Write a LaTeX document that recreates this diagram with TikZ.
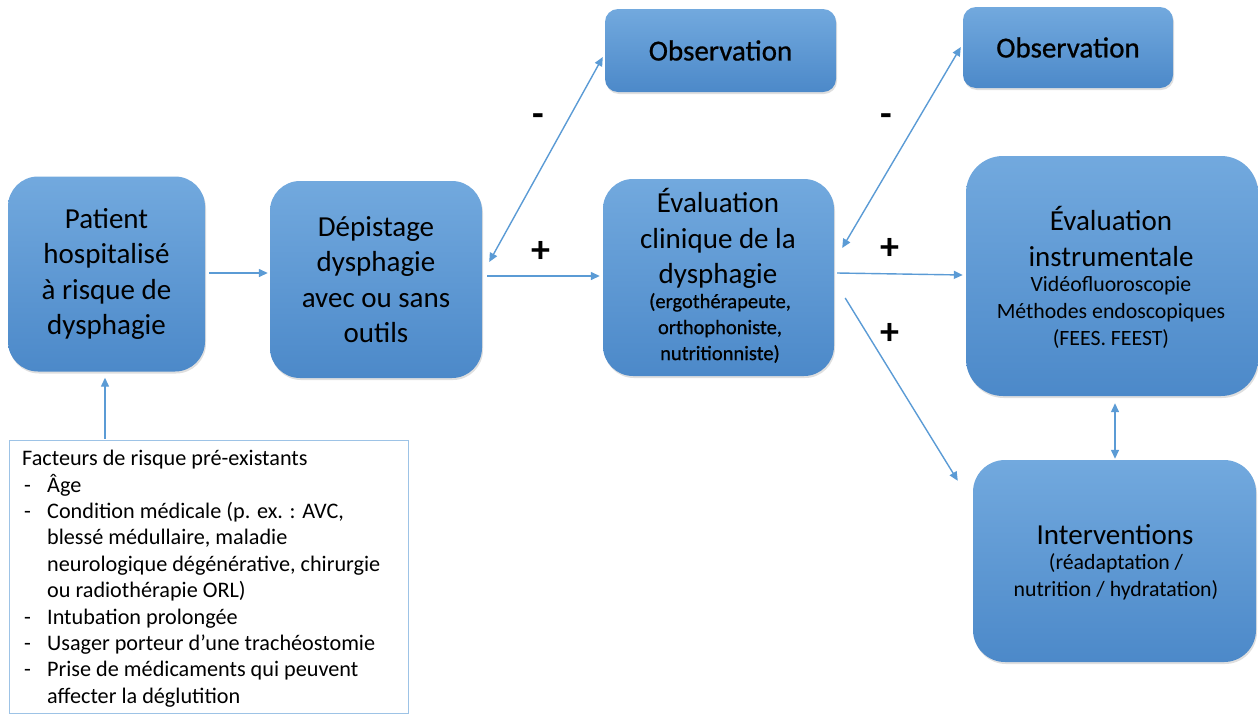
\documentclass[tikz,border=0pt]{standalone}
\usepackage{fontspec}
\setmainfont{Carlito}
\newfontfamily\medfont{Carlito}[FakeBold=0.7]
\usetikzlibrary{arrows.meta,shadows,calc}
\definecolor{boxtop}{HTML}{72A9DE}
\definecolor{boxbot}{HTML}{4C89C9}
\definecolor{arrc}{HTML}{5B9BD5}
\definecolor{facb}{HTML}{9DC3E6}
\begin{document}
\begin{tikzpicture}[x=1pt,y=-1pt,
  box/.style={rectangle, inner sep=0pt, top color=boxtop, bottom color=boxbot, draw=none,
    drop shadow={opacity=0.25, shadow xshift=1pt, shadow yshift=-2pt}, align=center, text=black},
  big/.style={font=\fontsize{29}{35.5}\selectfont, align=center, text=black},
  obst/.style={font=\medfont\fontsize{29}{34}\selectfont, text=black},
  smallb/.style={font=\medfont\fontsize{20.5}{26}\selectfont, align=center, text=black},
  small/.style={font=\fontsize{21.8}{27}\selectfont, align=center, text=black},
  arr/.style={draw=arrc, line width=1.4pt, -{Triangle[width=8pt,length=9pt]}},
  dbl/.style={draw=arrc, line width=1.4pt, {Triangle[width=8pt,length=9pt]}-{Triangle[width=8pt,length=9pt]}},
  sign/.style={font=\fontsize{38}{38}\selectfont\bfseries, text=black}
]
\useasboundingbox (0,0) rectangle (1258,713);

% boxes
\node[box, big, rounded corners=30pt, minimum width=197pt, minimum height=195pt] (pat) at (106.5,274)
  {Patient\\hospitalisé\\à risque de\\dysphagie};
\node[box, big, rounded corners=30pt, minimum width=212pt, minimum height=197pt] (dep) at (376,279.5)
  {Dépistage\\dysphagie\\avec ou sans\\outils};
\node[box, obst, rounded corners=13pt, minimum width=231pt, minimum height=83pt] (obs1) at (720.5,50.5)
  {Observation};
\node[box, rounded corners=30pt, minimum width=231pt, minimum height=197pt] (eval) at (718.5,277.5) {};
\node[big] (evalt) at (718,238.5) {Évaluation\\clinique de la\\dysphagie};
\node[smallb] (evals) at (720,328) {(ergothérapeute,\\orthophoniste,\\nutritionniste)};
\node[box, obst, rounded corners=13pt, minimum width=210pt, minimum height=81pt] (obs2) at (1068,47.5)
  {Observation};
\node[box, rounded corners=37pt, minimum width=292pt, minimum height=240pt] (instr) at (1112,276) {};
\node[big] (instrt) at (1111,236.5) {Évaluation\\instrumentale};
\node[small] (instrs) at (1111,312) {Vidéofluoroscopie\\Méthodes endoscopiques\\(FEES. FEEST)};
\node[box, rounded corners=32pt, minimum width=283pt, minimum height=202pt] (interv) at (1114.5,561) {};
\node[big] (intervt) at (1115,535) {Interventions};
\node[small] (intervs) at (1116,577) {(réadaptation /\\nutrition / hydratation)};

% risk factors box
\node[draw=facb, line width=1pt, rectangle, inner sep=0pt, minimum width=399pt, minimum height=273pt] (fac) at (208.5,576.5) {};
\node[anchor=north west, inner sep=0pt, align=left, font=\fontsize{22.2}{26.4}\selectfont] (fact) at (22,450)
  {Facteurs de risque pré-existants\\
   \makebox[25pt][l]{\hspace{2pt}-}Âge\\
   \makebox[25pt][l]{\hspace{2pt}-}Condition médicale (p. ex. : AVC,\\
   \hspace*{25pt}blessé médullaire, maladie\\
   \hspace*{25pt}neurologique dégénérative, chirurgie\\
   \hspace*{25pt}ou radiothérapie ORL)\\
   \makebox[25pt][l]{\hspace{2pt}-}Intubation prolongée\\
   \makebox[25pt][l]{\hspace{2pt}-}Usager porteur d’une trachéostomie\\
   \makebox[25pt][l]{\hspace{2pt}-}Prise de médicaments qui peuvent\\
   \hspace*{25pt}affecter la déglutition};

% connectors
\draw[arr] ($(pat.east)+(4,-1)$) -- ($(dep.west)+(-2,-6.5)$);
\draw[arr] ($(pat.south)+(-1.5,67)$) -- ($(pat.south)+(-1.5,6)$);
\draw[arr] ($(dep.east)+(5,-3.5)$) -- ($(eval.west)+(-3,-1.5)$);
\draw[dbl] ($(obs1.west)+(-2,6.5)$) -- ($(dep.east)+(7,-17.5)$);
\draw[dbl] ($(obs2.west)+(-2,-0.5)$) -- ($(eval.east)+(8,-29.5)$);
\draw[arr] ($(eval.east)+(3,-4.5)$) -- ($(instr.west)+(-3,-1)$);
\draw[arr] ($(eval.east)+(11,20.5)$) -- ($(interv.north west)+(-15,21)$);
\draw[dbl] ($(instr.south)+(3,7)$) -- ($(interv.north)+(0.5,-1)$);

% signs
\node[sign] (s1) at (538,120) {-};
\node[sign] (s2) at (541,252) {+};
\node[sign] (s3) at (886,120) {-};
\node[sign] (s4) at (890,249) {+};
\node[sign] (s5) at (890,334) {+};
\end{tikzpicture}
\end{document}
